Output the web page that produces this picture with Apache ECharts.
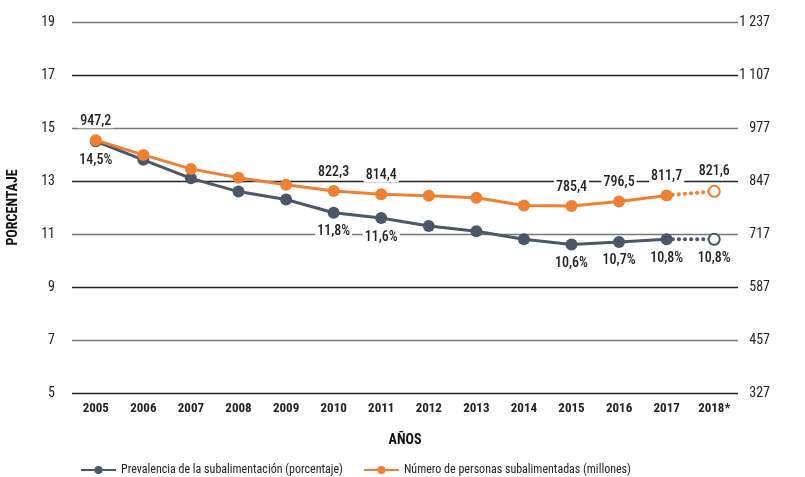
<!DOCTYPE html>
<html>
<head>
<meta charset="utf-8">
<script src="https://cdn.jsdelivr.net/npm/echarts@6/dist/echarts.min.js"></script>
<style>
  html, body { margin: 0; padding: 0; background: #fff; }
  #chart { width: 805px; height: 477px; }
</style>
</head>
<body>
<div id="chart"></div>
<script>
// datos
const years = ['2005', '2006', '2007', '2008', '2009', '2010', '2011', '2012', '2013', '2014', '2015', '2016', '2017', '2018*'];
const prevalencia = [14.5, 13.8, 13.1, 12.6, 12.3, 11.8, 11.6, 11.3, 11.1, 10.8, 10.6, 10.7, 10.8, 10.8];
const personas = [947.2, 911.0, 876.7, 855.0, 838.0, 822.3, 814.4, 811.0, 806.0, 787.0, 785.4, 796.5, 811.7, 821.6];
const etiquetas = [0, 5, 6, 10, 11, 12, 13];
const lastReal = 12; // 2018 es proyección

const FONT = '"Roboto Condensed", "Liberation Sans Narrow", Roboto, sans-serif';
const GREY = '#4b5768';
const ORANGE = '#ee8131';

const fmt = v => v.toFixed(1).replace('.', ',');
const fmtMil = v => String(v).replace(/\B(?=(\d{3})+(?!\d))/g, ' ');

const mkData = (arr, proj, pos, suffix) => arr.map((v, i) => {
    const inRange = proj ? i >= lastReal : i <= lastReal;
    if (!inRange) return '-';
    const showLabel = etiquetas.includes(i) && (proj ? i === arr.length - 1 : i <= lastReal);
    const item = {
        value: v,
        label: {
            show: showLabel,
            position: pos,
            distance: 6,
            formatter: () => fmt(v) + suffix,
            color: '#222',
            fontFamily: FONT,
            fontSize: 14,
            fontWeight: 500,
            backgroundColor: '#fff',
            padding: [0, 2]
        }
    };
    if (proj && i === lastReal) item.symbol = 'none';
    return item;
});

const chart = echarts.init(document.getElementById('chart'));

const axisName = { fontFamily: FONT, fontSize: 14, fontWeight: 'bold', color: '#111' };

const option = {
    animation: false,
    textStyle: { fontFamily: FONT },
    grid: { left: 72, right: 67, top: 22, bottom: 84, outerBoundsMode: 'none', containLabel: false },
    legend: {
        top: 459,
        left: 75,
        itemWidth: 35,
        itemHeight: 10,
        itemGap: 20,
        textStyle: { fontFamily: FONT, fontSize: 12, color: '#222' },
        data: ['Prevalencia de la subalimentación (porcentaje)', 'Número de personas subalimentadas (millones)']
    },
    xAxis: {
        type: 'category',
        data: years,
        name: 'AÑOS',
        nameLocation: 'middle',
        nameGap: 40,
        nameTextStyle: axisName,
        axisLine: { show: false },
        axisTick: { show: false },
        axisLabel: { interval: 0, margin: 9, fontFamily: FONT, fontSize: 13, fontWeight: 'bold', color: '#222' }
    },
    yAxis: [{
        type: 'value',
        min: 5,
        max: 19,
        interval: 2,
        name: 'PORCENTAJE',
        nameLocation: 'middle',
        nameGap: 52,
        nameRotate: 90,
        nameTextStyle: axisName,
        axisLine: { show: false },
        axisTick: { show: false },
        axisLabel: { margin: 17, fontFamily: FONT, fontSize: 14, color: '#222' },
        splitLine: { lineStyle: { color: ['#222', '#777'], width: 1.3 } }
    }, {
        type: 'value',
        min: 327,
        max: 1237,
        interval: 130,
        name: 'MILLONES',
        nameLocation: 'middle',
        nameGap: 72,
        nameRotate: 90,
        nameTextStyle: axisName,
        axisLine: { show: false },
        axisTick: { show: false },
        splitLine: { show: false },
        axisLabel: {
            margin: 32,
            align: 'right',
            fontFamily: FONT,
            fontSize: 14,
            color: '#222',
            formatter: v => fmtMil(v)
        }
    }],
    series: [{
        name: 'Prevalencia de la subalimentación (porcentaje)',
        type: 'line',
        yAxisIndex: 0,
        color: GREY,
        symbol: 'circle',
        symbolSize: 12,
        lineStyle: { width: 3 },
        data: mkData(prevalencia, false, 'bottom', '%'),
        z: 3
    }, {
        name: 'Prevalencia de la subalimentación (porcentaje)',
        type: 'line',
        yAxisIndex: 0,
        color: GREY,
        symbol: 'emptyCircle',
        symbolSize: 11,
        itemStyle: { borderWidth: 3, borderColor: GREY },
        lineStyle: { width: 4, type: [0.1, 6], cap: 'round', color: GREY },
        data: mkData(prevalencia, true, 'bottom', '%'),
        z: 2
    }, {
        name: 'Número de personas subalimentadas (millones)',
        type: 'line',
        yAxisIndex: 1,
        color: ORANGE,
        symbol: 'circle',
        symbolSize: 12,
        lineStyle: { width: 3 },
        data: mkData(personas, false, 'top', ''),
        z: 4
    }, {
        name: 'Número de personas subalimentadas (millones)',
        type: 'line',
        yAxisIndex: 1,
        color: ORANGE,
        symbol: 'emptyCircle',
        symbolSize: 11,
        itemStyle: { borderWidth: 3, borderColor: ORANGE },
        lineStyle: { width: 4, type: [0.1, 6], cap: 'round', color: ORANGE },
        data: mkData(personas, true, 'top', ''),
        z: 2
    }]
};

chart.setOption(option);
</script>
</body>
</html>
